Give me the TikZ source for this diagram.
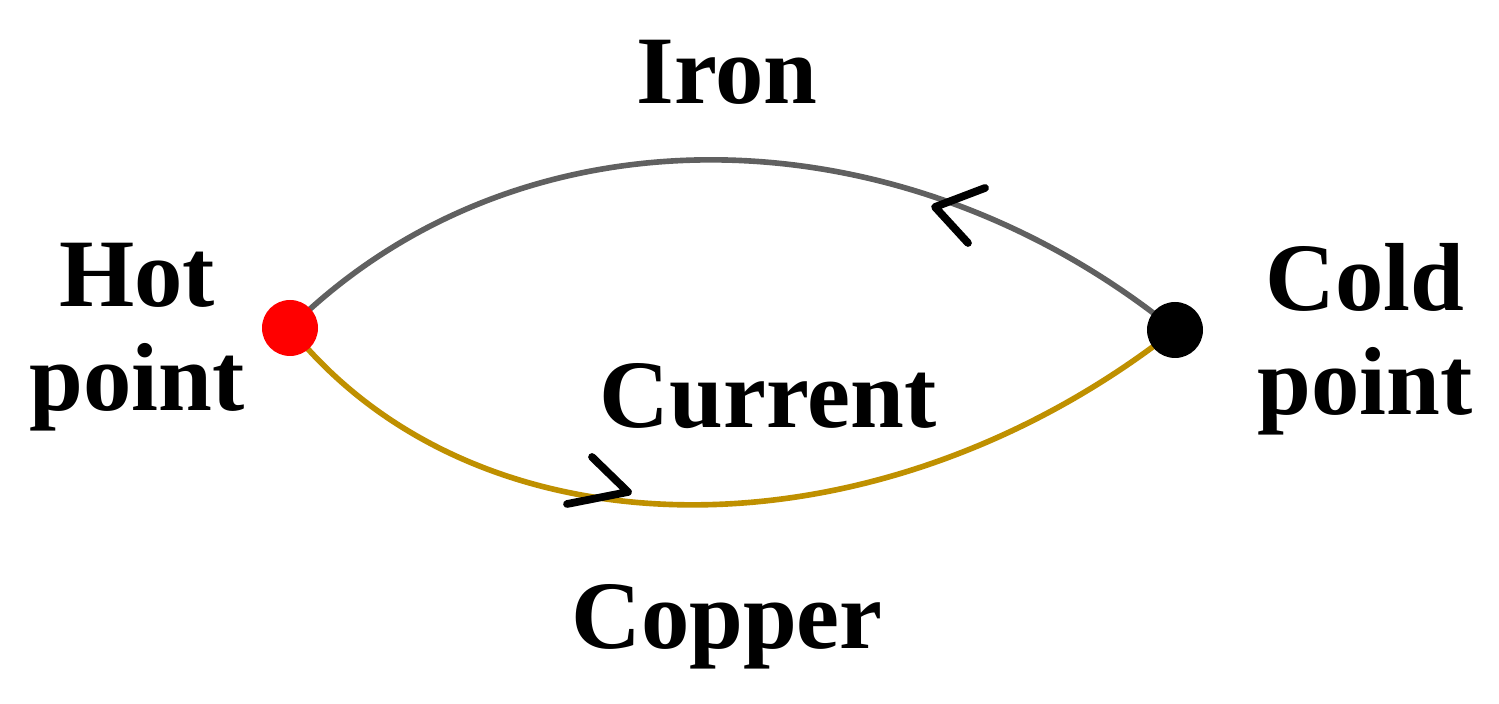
\documentclass[tikz,border=0pt]{standalone}
\usepackage{fontspec}
\setmainfont{Liberation Serif}
\begin{document}
\begin{tikzpicture}[x=0.01cm,y=-0.01cm,
  lbl/.style={font=\fontsize{27.5}{29.5}\selectfont\bfseries, align=center},
  wire/.style={line width=1.6pt},
  chev/.style={line width=2.2pt, line cap=round, line join=round}]
\useasboundingbox (0,0) rectangle (1499,704);
\definecolor{irongray}{RGB}{96,96,96}
\definecolor{copper}{RGB}{191,144,0}
\coordinate (hot) at (290,328);
\coordinate (cold) at (1175,330);
\draw[wire, irongray] (hot) .. controls (520,100) and (900,107) .. (cold);
\draw[wire, copper] (hot) .. controls (480,565) and (880,562) .. (cold);
\fill[red] (hot) circle (28);
\fill[black] (cold) circle (28);
\draw[chev] (985,188) -- (935,207) -- (968,243);
\draw[chev] (592,457) -- (628,492) -- (567,504);
\node[lbl] (iron) at (727,72) {Iron};
\node[lbl] (hotl) at (137,337) {Hot\\point};
\node[lbl] (coldl) at (1365,339) {Cold\\point};
\node[lbl] (cur) at (768,396) {Current};
\node[lbl] (cop) at (727,627) {Copper};
\end{tikzpicture}
\end{document}
